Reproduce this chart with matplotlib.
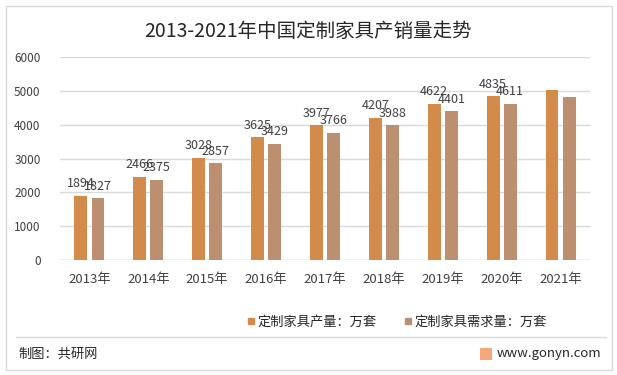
import numpy as np
import matplotlib.pyplot as plt
from matplotlib.patches import Rectangle
from matplotlib.lines import Line2D

plt.rcParams['font.family'] = ['Noto Sans CJK SC', 'DejaVu Sans']

years = ['2013年', '2014年', '2015年', '2016年', '2017年', '2018年', '2019年', '2020年', '2021年']
production = [1894, 2466, 3028, 3625, 3977, 4207, 4622, 4835, 5020]
demand = [1827, 2375, 2857, 3429, 3766, 3988, 4401, 4611, 4815]
show_label = [True] * 8 + [False]
series_names = ['定制家具产量：万套', '定制家具需求量：万套']
colors = ['#D38B4C', '#BB8F6F']


def main():
    fig = plt.figure(figsize=(6.17, 3.75), dpi=100)
    W, H = 617, 375
    ax = fig.add_axes([60 / W, 1 - 260 / H, 530 / W, 203 / H])

    x = np.arange(len(years))
    bw = 0.22
    off = 0.145
    b1 = ax.bar(x - off, production, bw, color=colors[0], zorder=3)
    b2 = ax.bar(x + off, demand, bw, color=colors[1], zorder=3)

    for bars, vals in ((b1, production), (b2, demand)):
        for rect, v, s in zip(bars, vals, show_label):
            if not s:
                continue
            ax.annotate(str(v), (rect.get_x() + rect.get_width() / 2, v),
                        xytext=(0, 4), textcoords='offset points',
                        ha='center', va='bottom', fontsize=9, color='#404040',
                        zorder=5)

    ax.set_xlim(-0.5, len(years) - 0.5)
    ax.set_ylim(0, 6000)
    ax.set_yticks(range(0, 6001, 1000))
    ax.set_xticks(x)
    ax.set_xticklabels(years, fontsize=9.5, color='#404040')
    ax.tick_params(axis='y', labelsize=8.5, colors='#404040', length=0, pad=14)
    ax.tick_params(axis='x', length=0, pad=9)
    ax.grid(axis='y', color='#D9D9D9', linewidth=1, zorder=0)
    for sp in ax.spines.values():
        sp.set_visible(False)
    ax.axhline(0, color='#D9D9D9', linewidth=1, zorder=1)

    fig.text(0.5, 1 - 31 / H, '2013-2021年中国定制家具产销量走势', ha='center', va='center',
             fontsize=14, color='#262626')

    handles = [Line2D([], [], marker='s', linestyle='none', markersize=5,
                      color=c) for c in colors]
    fig.legend(handles, series_names, loc='center', bbox_to_anchor=(397 / W, 1 - 322 / H),
               ncol=2, frameon=False, fontsize=9.5, handlelength=0.6, handletextpad=0.25,
               columnspacing=2.0, labelcolor='#262626')

    # outer frame and footer
    fig.patches.append(Rectangle((6 / W, 1 - 370 / H), 606 / W, 364 / H, transform=fig.transFigure,
                                 fill=False, edgecolor='#D9D9D9', linewidth=1))
    fig.lines.append(Line2D([16 / W, 606 / W], [1 - 337 / H, 1 - 337 / H],
                            transform=fig.transFigure, color='#D9D9D9', linewidth=1))
    fig.text(18 / W, 1 - 354 / H, '制图：共研网', ha='left', va='center', fontsize=9.5,
             color='#262626')
    fig.patches.append(Rectangle((480 / W, 1 - 360 / H), 12 / W, 12 / H, transform=fig.transFigure,
                                 facecolor='#F4A87A', edgecolor='none'))
    fig.text(497 / W, 1 - 353 / H, 'www.gonyn.com', ha='left', va='center', fontsize=9.5,
             color='#262626')

    fig.savefig('out.png', dpi=100)


if __name__ == "__main__":
    main()
